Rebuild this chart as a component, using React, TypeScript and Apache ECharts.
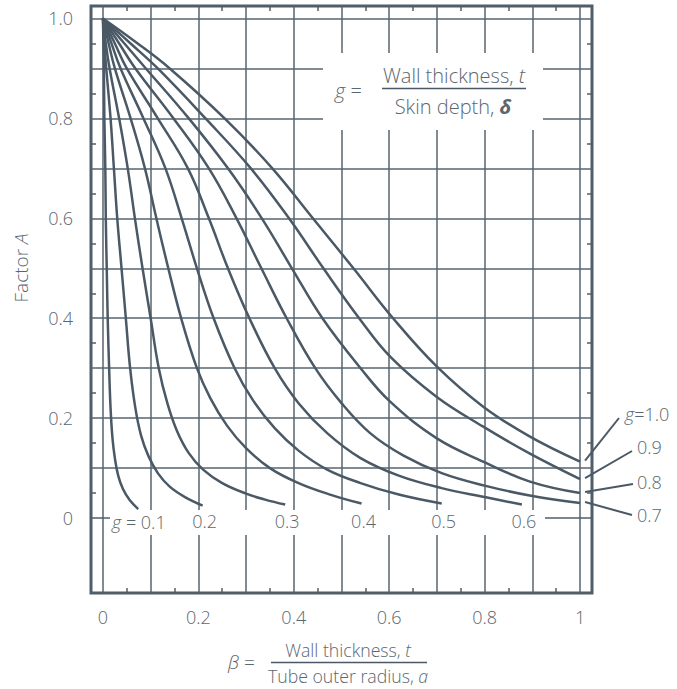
import React, { useEffect, useRef } from 'react';
import * as echarts from 'echarts';

// ---- data ----
const xGridValues = [0, 0.1, 0.2, 0.3, 0.4, 0.5, 0.6, 0.7, 0.8, 0.9, 1.0];
const xLabelValues = [0, 0.2, 0.4, 0.6, 0.8, 1.0];
const xMinorValues = [0.05, 0.15, 0.25, 0.35, 0.45, 0.55, 0.65, 0.75, 0.85, 0.95];
const yGridValues = [0.1, 0.2, 0.3, 0.4, 0.5, 0.6, 0.7, 0.8, 0.9, 1.0];
const yLabelValues = [0, 0.2, 0.4, 0.6, 0.8, 1.0];
const yMinorValues = [0.05, 0.15, 0.25, 0.35, 0.45, 0.55, 0.65, 0.75, 0.85, 0.95];
const yZeroValues = [0];

const g01 = [[0, 1], [0.002, 0.9], [0.003, 0.8], [0.005, 0.7], [0.006, 0.6], [0.008, 0.5], [0.01, 0.4], [0.013, 0.3], [0.016, 0.22], [0.02, 0.16], [0.025, 0.12], [0.032, 0.085], [0.042, 0.058], [0.056, 0.036], [0.074, 0.018]];
const g02 = [[0, 1], [0.003, 0.95], [0.007, 0.9], [0.016, 0.8], [0.023, 0.7], [0.03, 0.6], [0.039, 0.5], [0.048, 0.4], [0.057, 0.3], [0.068, 0.22], [0.08, 0.165], [0.095, 0.125], [0.115, 0.09], [0.14, 0.063], [0.172, 0.042], [0.209, 0.025]];
const g03 = [[0, 1], [0.006, 0.95], [0.014, 0.9], [0.034, 0.8], [0.052, 0.7], [0.067, 0.6], [0.083, 0.5], [0.1, 0.4], [0.117, 0.3], [0.135, 0.23], [0.155, 0.175], [0.18, 0.13], [0.21, 0.097], [0.25, 0.07], [0.3, 0.049], [0.34, 0.037], [0.382, 0.027]];
const g04 = [[0, 1], [0.012, 0.95], [0.025, 0.9], [0.058, 0.8], [0.088, 0.7], [0.112, 0.6], [0.137, 0.5], [0.164, 0.4], [0.197, 0.3], [0.225, 0.24], [0.26, 0.185], [0.3, 0.14], [0.35, 0.1], [0.41, 0.07], [0.476, 0.047], [0.542, 0.029]];
const g05 = [[0, 1], [0.018, 0.95], [0.037, 0.9], [0.085, 0.8], [0.131, 0.7], [0.165, 0.6], [0.197, 0.5], [0.232, 0.4], [0.276, 0.3], [0.315, 0.235], [0.36, 0.18], [0.41, 0.135], [0.47, 0.097], [0.54, 0.07], [0.62, 0.047], [0.71, 0.029]];
const g06 = [[0, 1], [0.025, 0.95], [0.05, 0.9], [0.115, 0.8], [0.178, 0.7], [0.222, 0.6], [0.262, 0.5], [0.307, 0.4], [0.36, 0.3], [0.41, 0.23], [0.47, 0.17], [0.54, 0.12], [0.62, 0.085], [0.71, 0.06], [0.8, 0.042], [0.878, 0.027]];
const g07 = [[0, 1], [0.034, 0.95], [0.068, 0.9], [0.148, 0.8], [0.222, 0.7], [0.28, 0.6], [0.332, 0.5], [0.385, 0.4], [0.445, 0.3], [0.5, 0.23], [0.56, 0.17], [0.63, 0.125], [0.71, 0.09], [0.8, 0.065], [0.9, 0.044], [1.0, 0.03]];
const g08 = [[0, 1], [0.045, 0.95], [0.09, 0.9], [0.18, 0.8], [0.262, 0.7], [0.333, 0.6], [0.396, 0.5], [0.46, 0.4], [0.54, 0.3], [0.602, 0.233], [0.699, 0.16], [0.797, 0.113], [0.895, 0.073], [1.0, 0.05]];
const g09 = [[0, 1], [0.058, 0.95], [0.115, 0.9], [0.215, 0.8], [0.31, 0.7], [0.39, 0.6], [0.462, 0.5], [0.537, 0.4], [0.602, 0.323], [0.699, 0.243], [0.797, 0.183], [0.895, 0.129], [1.0, 0.078]];
const g10 = [[0, 1], [0.07, 0.952], [0.14, 0.9], [0.255, 0.8], [0.355, 0.7], [0.44, 0.6], [0.525, 0.5], [0.608, 0.4], [0.7, 0.303], [0.797, 0.223], [0.895, 0.163], [1.0, 0.113]];

const curves = [g01, g02, g03, g04, g05, g06, g07, g08, g09, g10];
const curveNames = ['0.1', '0.2', '0.3', '0.4', '0.5', '0.6', '0.7', '0.8', '0.9', '1.0'];

// ---- styles ----
const FONT = "'Open Sans', 'Noto Sans', sans-serif";
const TEXT = '#5b6770';
const LINE = '#4a5965';
const GRID = '#566470';
const FRAME = '#4f5e69';
const X_MIN = -0.025, X_MAX = 1.025, Y_MIN = -0.15, Y_MAX = 1.025;

const fmtX = (v: number) => (v === 0 ? '0' : v === 1 ? '1' : v.toFixed(1));
const fmtY = (v: number) => (v === 0 ? '0' : v.toFixed(1));

function rich(size: number) {
  const base = { fontSize: size, fontFamily: FONT, fontWeight: 300, fill: TEXT };
  return {
    n: { ...base },
    i: { ...base, fontStyle: 'italic' },
    b: { ...base, fontStyle: 'italic', fontWeight: 'bold' },
  };
}

function text(x: number, y: number, t: string, size: number, align = 'center', extra: any = {}) {
  return {
    type: 'text',
    x,
    y,
    z: 5,
    silent: true,
    ...extra,
    style: {
      text: t,
      fontSize: size,
      fontFamily: FONT,
      fontWeight: 300,
      fill: TEXT,
      align,
      verticalAlign: 'middle',
      rich: rich(size),
    },
  };
}

function line(x1: number, y1: number, x2: number, y2: number, w = 1.5) {
  return { type: 'line', z: 5, silent: true, shape: { x1, y1, x2, y2 }, style: { stroke: LINE, lineWidth: w } };
}

function minorAxis(pos: string, values: number[], isX: boolean, len = 5) {
  return {
    type: 'value',
    min: isX ? X_MIN : Y_MIN,
    max: isX ? X_MAX : Y_MAX,
    position: pos,
    axisLine: { show: false, onZero: false },
    splitLine: { show: false },
    axisLabel: { show: false },
    axisTick: { show: true, inside: true, length: len, customValues: values, lineStyle: { color: FRAME, width: 1.5 } },
  };
}

export default function App() {
  const ref = useRef<HTMLDivElement>(null);
  useEffect(() => {
    const chart = echarts.init(ref.current!, null, { renderer: 'svg' });
    const option: any = {
      animation: false,
      backgroundColor: '#ffffff',
      grid: { left: 91, top: 6, width: 501, height: 587, show: true, borderColor: FRAME, borderWidth: 3, backgroundColor: 'transparent' },
      xAxis: [
        {
          type: 'value', min: X_MIN, max: X_MAX, position: 'bottom',
          axisLine: { show: false, onZero: false },
          axisTick: { show: false, customValues: xGridValues },
          splitLine: { show: true, lineStyle: { color: GRID, width: 1.5 } },
          axisLabel: { customValues: xLabelValues, formatter: fmtX, fontSize: 18, fontFamily: FONT, fontWeight: 300, color: TEXT, margin: 15 },
        },
        minorAxis('bottom', xMinorValues, true),
        minorAxis('top', xMinorValues, true),
      ],
      yAxis: [
        {
          type: 'value', min: Y_MIN, max: Y_MAX, position: 'left',
          axisLine: { show: false, onZero: false },
          axisTick: { show: false, customValues: yGridValues },
          splitLine: { show: true, lineStyle: { color: GRID, width: 1.5 } },
          axisLabel: { customValues: yLabelValues, formatter: fmtY, fontSize: 18, fontFamily: FONT, fontWeight: 300, color: TEXT, margin: 18 },
        },
        minorAxis('left', yMinorValues, false),
        minorAxis('right', yMinorValues, false),
        minorAxis('left', yZeroValues, false, 19),
        minorAxis('right', yZeroValues, false, 47),
      ],
      series: curves.map((d, i) => ({
        name: 'g = ' + curveNames[i],
        type: 'line',
        xAxisIndex: 0,
        yAxisIndex: 0,
        data: d,
        smooth: 0.4,
        symbol: 'none',
        silent: true,
        z: 3,
        lineStyle: { color: LINE, width: 2.5 },
      })),
    };
    chart.setOption(option);

    const px = (p: number[]) => chart.convertToPixel({ seriesIndex: 0 }, p) as number[];
    const endPx = curves.map((d) => px(d[d.length - 1]));
    const zeroY = px([0, 0])[1];

    const graphics: any[] = [
      // white masks that interrupt the grid behind the texts
      { type: 'rect', z: 1, silent: true, shape: { x: 323, y: 53, width: 220, height: 77 }, style: { fill: '#ffffff' } },
      { type: 'rect', z: 1, silent: true, shape: { x: 111, y: zeroY - 8, width: 429, height: 25 }, style: { fill: '#ffffff' } },
      // formula g
      text(335, 90, '{i|g}{n| =}', 20, 'left'),
      text(454, 75, '{n|Wall thickness, }{i|t}', 20),
      line(382, 88.5, 526, 88.5),
      text(453, 106, '{n|Skin depth, }{b|δ}', 20),
      // x-axis title
      text(228, 662, '{i|β}{n| =}', 19, 'left'),
      text(348, 650, '{n|Wall thickness, }{i|t}', 17.7),
      line(271, 662.5, 427, 662.5),
      text(348, 676, '{n|Tube outer radius, }{i|a}', 17.7),
      // y-axis title
      text(21, 268, '{n|Factor }{i|A}', 19, 'center', { rotation: Math.PI / 2 }),
      // bottom curve labels
      text(112, zeroY + 4, '{i|g}{n| = 0.1}', 18, 'left'),
    ];
    for (let i = 1; i <= 5; i++) {
      graphics.push(text(endPx[i][0] + 2, zeroY + 3, curveNames[i], 18));
    }
    // right curve labels with leaders
    const rightLabels = [
      { idx: 9, tx: 625, ty: 414, lx: 619, ly: 418, t: '{i|g}{n|=1.0}' },
      { idx: 8, tx: 637, ty: 447, lx: 632, ly: 451, t: '0.9' },
      { idx: 7, tx: 637, ty: 482, lx: 633, ly: 484, t: '0.8' },
      { idx: 6, tx: 637, ty: 515, lx: 632, ly: 515, t: '0.7' },
    ];
    rightLabels.forEach((r) => {
      const e = endPx[r.idx];
      graphics.push(line(e[0] + 5, e[1] - 1, r.lx, r.ly, 2));
      graphics.push(text(r.tx, r.ty, r.t, 18, 'left'));
    });
    chart.setOption({ graphic: graphics });
    return () => chart.dispose();
  }, []);
  return (
    <div
      ref={ref}
      style={{ position: 'fixed', left: 0, top: 0, width: 677, height: 689, background: '#ffffff' }}
    />
  );
}
